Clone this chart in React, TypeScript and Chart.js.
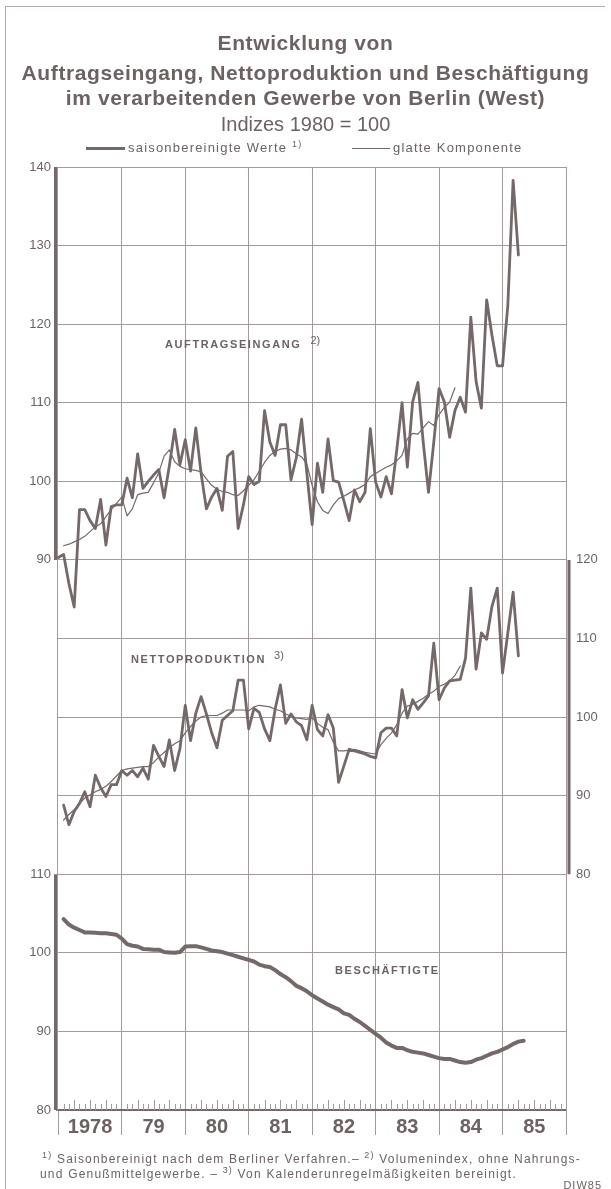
import React, { useEffect, useRef } from 'react';
import { Chart, registerables } from 'chart.js';

Chart.register(...registerables);

// ---------- data (month index 0 = Jan 1978) ----------
const yearLabels = ['1978', '79', '80', '81', '82', '83', '84', '85'];
const leftTopTicks = [90, 100, 110, 120, 130, 140];
const leftBottomTicks = [80, 90, 100, 110];
const rightTicks = [80, 90, 100, 110, 120];

const auftragRawStart = 0;
const auftragRaw = [
  90.3, 90.7, 87, 84, 96.4, 96.4, 95, 94, 97.7, 91.9, 96.8, 97,
  97, 100.4, 97.9, 103.5, 99.1, 100, 100.8, 101.5, 97.9, 102, 106.6, 102.1,
  105.3, 101.3, 106.8, 101, 96.5, 98, 99.1, 96.3, 103.2, 103.8, 94.0, 97,
  100.6, 99.6, 100, 109.0, 105, 103.3, 107.2, 107.2, 100.2, 103, 107.9, 101,
  94.5, 102.3, 98.6, 105.4, 100.1, 99.9, 97.5, 95, 98.9, 97.4, 98.6, 106.7,
  99.9, 98.0, 100.6, 98.4, 104, 110.0, 101.8, 110.1, 112.6, 105, 98.6, 105,
  111.8, 110.1, 105.6, 109, 110.7, 108.8, 120.9, 112.7, 109.3, 123.1, 118.6, 114.7,
  114.7, 122.4, 138.3, 128.8,
];

const auftragSmoothStart = 1;
const auftragSmooth = [
  91.8, 92.0, 92.3, 92.6, 93.0, 93.6, 94.2, 94.6, 95.5, 96.4, 97.2,
  98.0, 95.6, 96.5, 98.3, 98.5, 98.6, 99.8, 101.1, 103.2, 104.0, 102.5, 101.9,
  101.6, 101.5, 101.4, 101.2, 100.3, 99.5, 99.0, 98.7, 98.6, 98.3, 98.2, 98.8,
  99.5, 100.2, 101.3, 102.4, 103.3, 103.8, 104.1, 104.2, 104.0, 103.5, 103.1, 102.2,
  99.5, 97.4, 96.3, 95.9, 97.0, 97.8, 98.1, 98.5, 98.9, 99.2, 99.6, 100.6,
  101.0, 101.4, 101.8, 102.1, 102.6, 103.3, 105.4, 106.1, 106.0, 106.8, 107.6, 107.1,
  108.5, 109.4, 110.1, 111.9,
];

const nettoRawStart = 1;
const nettoRaw = [
  88.8, 86.3, 88.0, 89.0, 90.5, 88.6, 92.6, 91.0, 89.9, 91.4, 91.4,
  93.2, 92.6, 93.2, 92.4, 93.5, 92.1, 96.4, 95, 93.7, 97.1, 93.2, 96,
  101.5, 97.0, 100.5, 102.6, 100.4, 98, 96.1, 99.6, 100.2, 100.8, 104.7, 104.7,
  98.5, 101.1, 100.6, 98.5, 97.0, 101, 104.1, 99.2, 100.4, 99.4, 98.9, 97.1,
  101.5, 98.4, 97.6, 100.3, 98.6, 91.7, 93.8, 95.9, 95.7, 95.5, 95.3, 95.0,
  94.8, 98.0, 98.6, 98.6, 97.6, 103.5, 99.9, 102.2, 101, 101.8, 102.7, 109.4,
  102.2, 103.7, 104.6, 104.7, 104.8, 107.5, 116.4, 106.1, 110.7, 109.9, 114.1, 116.4,
  105.6, 110.7, 115.9, 107.8,
];

const nettoSmoothStart = 1;
const nettoSmooth = [
  86.9, 87.6, 88.2, 89.0, 89.7, 90.1, 90.5, 90.8, 91.2, 91.8, 92.5,
  93.2, 93.4, 93.5, 93.6, 93.7, 93.7, 94.2, 94.9, 95.5, 96.1, 96.6, 97.0,
  98.0, 98.8, 99.5, 100.0, 100.2, 100.2, 100.2, 100.5, 100.9, 100.9, 100.9, 100.9,
  100.8, 101.3, 101.5, 101.4, 101.3, 101.0, 100.8, 100.4, 100.1, 99.9, 99.8, 99.7,
  99.9, 99.2, 98.7, 98.4, 96.8, 95.7, 95.7, 95.8, 95.9, 95.7, 95.5, 95.4,
  95.3, 96.5, 97.3, 98.0, 99.0, 100.5, 101.4, 101.6, 102.0, 102.4, 102.9, 103.3,
  103.9, 104.2, 104.6, 105.3, 106.5,
];

const beschStart = 1;
const beschaeftigte = [
  104.3, 103.6, 103.2, 102.9, 102.6, 102.6, 102.55, 102.5, 102.5, 102.4, 102.3,
  101.8, 101.1, 100.9, 100.8, 100.5, 100.45, 100.4, 100.4, 100.1, 100.05, 100.0, 100.1,
  100.8, 100.85, 100.85, 100.7, 100.5, 100.3, 100.2, 100.1, 99.9, 99.7, 99.5, 99.3,
  99.1, 98.9, 98.5, 98.3, 98.2, 97.8, 97.3, 96.9, 96.4, 95.8, 95.5, 95.1,
  94.6, 94.2, 93.8, 93.4, 93.1, 92.8, 92.3, 92.1, 91.6, 91.2, 90.7, 90.2,
  89.7, 89.2, 88.6, 88.2, 87.9, 87.9, 87.6, 87.4, 87.3, 87.2, 87.0, 86.8,
  86.6, 86.5, 86.5, 86.3, 86.1, 86.0, 86.1, 86.4, 86.6, 86.9, 87.2, 87.4,
  87.7, 88.0, 88.4, 88.7, 88.8,
];

// ---------- styles ----------
const FONT = '"Liberation Sans", Arial, sans-serif';
const LINE = '#746868';
const GRID = '#a39a9a';
const TEXT = '#6d6262';
const CLEAR = 'rgba(0,0,0,0)';

const toPts = (start: number, vals: number[]) => vals.map((v, i) => ({ x: start + i, y: v }));

const xTickValues: number[] = [];
for (let v = 0; v <= 96; v += 6) xTickValues.push(v);

const decorPlugin = {
  id: 'decor',
  afterDraw(chart: any) {
    const { ctx, chartArea, scales } = chart;
    const x = scales.x;
    const yL = scales.yL;
    const yR = scales.yR;
    const yB = scales.yB;
    const seg = (x1: number, y1: number, x2: number, y2: number) => {
      ctx.beginPath();
      ctx.moveTo(x1, y1);
      ctx.lineTo(x2, y2);
      ctx.stroke();
    };
    ctx.save();
    ctx.strokeStyle = LINE;
    ctx.lineWidth = 3;
    const lx = chartArea.left - 1.5;
    seg(lx, yL.getPixelForValue(140), lx, yL.getPixelForValue(90));
    seg(lx, yB.getPixelForValue(110), lx, yB.getPixelForValue(80));
    const rx = chartArea.right + 3;
    seg(rx, yR.getPixelForValue(120), rx, yR.getPixelForValue(80));
    // month ticks on the time axis
    ctx.lineWidth = 1;
    ctx.strokeStyle = GRID;
    for (let m = 1; m < 96; m++) {
      if (m % 12 === 0) continue;
      const px = Math.round(x.getPixelForValue(m)) + 0.5;
      const h = m % 3 === 0 ? 10 : 6;
      seg(px, chartArea.bottom, px, chartArea.bottom - h);
    }
    ctx.restore();
  },
};

const abs = (s: React.CSSProperties): React.CSSProperties => ({ position: 'absolute', whiteSpace: 'nowrap', ...s });

export default function App() {
  const ref = useRef<HTMLCanvasElement>(null);

  useEffect(() => {
    if (!ref.current) return;
    const chart = new Chart(ref.current, {
      type: 'line',
      data: {
        datasets: [
          { label: 'Auftragseingang glatte Komponente', data: toPts(auftragSmoothStart, auftragSmooth), yAxisID: 'yL', borderColor: LINE, borderWidth: 1.2 },
          { label: 'Auftragseingang saisonbereinigt', data: toPts(auftragRawStart, auftragRaw), yAxisID: 'yL', borderColor: LINE, borderWidth: 2.8 },
          { label: 'Nettoproduktion glatte Komponente', data: toPts(nettoSmoothStart, nettoSmooth), yAxisID: 'yR', borderColor: LINE, borderWidth: 1.2 },
          { label: 'Nettoproduktion saisonbereinigt', data: toPts(nettoRawStart, nettoRaw), yAxisID: 'yR', borderColor: LINE, borderWidth: 2.8 },
          { label: 'Beschäftigte', data: toPts(beschStart, beschaeftigte), yAxisID: 'yB', borderColor: LINE, borderWidth: 4 },
        ],
      },
      options: {
        animation: false,
        responsive: false,
        events: [],
        elements: {
          point: { radius: 0 },
          line: { tension: 0, borderJoinStyle: 'round', borderCapStyle: 'round', fill: false },
        },
        layout: { padding: { top: 167, bottom: 39, left: 0, right: 0 } },
        plugins: { legend: { display: false }, tooltip: { enabled: false }, title: { display: false } },
        scales: {
          x: {
            type: 'linear',
            position: 'bottom',
            min: -0.25,
            max: 96,
            afterBuildTicks: (s: any) => {
              s.ticks = xTickValues.map((v) => ({ value: v }));
            },
            afterFit: (s: any) => {
              s.height = 40;
            },
            ticks: {
              autoSkip: false,
              maxRotation: 0,
              minRotation: 0,
              padding: -20,
              color: TEXT,
              font: { size: 20, weight: 'bold', family: FONT },
              callback: (v: any) => (v % 12 === 6 ? yearLabels[(v - 6) / 12] : ''),
            },
            grid: {
              color: (c: any) => (c.tick && c.tick.value % 12 === 0 && c.tick.value > 0 ? GRID : CLEAR),
              tickColor: (c: any) => (c.tick && c.tick.value % 12 === 0 ? GRID : CLEAR),
              tickLength: 25,
              drawTicks: true,
              lineWidth: 1,
            },
            border: { display: true, color: LINE, width: 2 },
          },
          yL: {
            type: 'linear',
            position: 'left',
            min: 20,
            max: 140,
            afterFit: (s: any) => {
              s.width = 57;
            },
            ticks: {
              stepSize: 10,
              padding: 6,
              color: TEXT,
              font: { size: 13, family: FONT },
              callback: (v: any) => {
                if (leftTopTicks.includes(v)) return String(v);
                if (leftBottomTicks.includes(v + 60)) return String(v + 60);
                return '';
              },
            },
            grid: { color: GRID, lineWidth: 1, drawTicks: false },
            border: { display: true, color: GRID, width: 1 },
          },
          yR: {
            type: 'linear',
            position: 'right',
            min: 50,
            max: 170,
            afterFit: (s: any) => {
              s.width = 45;
            },
            ticks: {
              stepSize: 10,
              padding: 10,
              color: TEXT,
              font: { size: 13, family: FONT },
              callback: (v: any) => (rightTicks.includes(v) ? String(v) : ''),
            },
            grid: { display: false, drawTicks: false },
            border: { display: true, color: GRID, width: 1 },
          },
          yB: { type: 'linear', display: false, min: 80, max: 200 },
        },
      } as any,
      plugins: [decorPlugin],
    });
    return () => chart.destroy();
  }, []);

  const title: React.CSSProperties = { left: 0, width: 611, textAlign: 'center', fontWeight: 'bold', fontSize: 21, lineHeight: '21px', letterSpacing: 0.6 };
  const series: React.CSSProperties = { fontWeight: 'bold', fontSize: 11, lineHeight: '11px', letterSpacing: 1.6 };
  const sup: React.CSSProperties = { fontSize: 9, position: 'relative', top: -5 };
  const foot: React.CSSProperties = { fontSize: 12, lineHeight: '12px', letterSpacing: 1.2 };

  return (
    <div style={{ position: 'absolute', left: 0, top: 0, width: 611, height: 1189, background: '#fff', overflow: 'hidden', fontFamily: FONT, color: TEXT }}>
      <div style={abs({ left: 5, top: 6, width: 1, height: 1183, background: '#b3abab' })} />
      <div style={abs({ left: 5, top: 6, width: 600, height: 1, background: '#b3abab' })} />
      <canvas ref={ref} width={611} height={1189} style={{ position: 'absolute', left: 0, top: 0 }} />

      <div style={abs({ ...title, top: 32 })}>Entwicklung von</div>
      <div style={abs({ ...title, top: 62 })}>Auftragseingang, Nettoproduktion und Beschäftigung</div>
      <div style={abs({ ...title, top: 87 })}>im verarbeitenden Gewerbe von Berlin (West)</div>
      <div style={abs({ left: 0, width: 611, textAlign: 'center', fontSize: 20, lineHeight: '20px', top: 114 })}>Indizes 1980 = 100</div>

      <div style={abs({ left: 86, top: 147, width: 39, height: 3, background: LINE })} />
      <div style={abs({ left: 128, top: 141, fontSize: 13, lineHeight: '13px', letterSpacing: 1.2 })}>
        saisonbereinigte Werte <span style={sup}>1)</span>
      </div>
      <div style={abs({ left: 352, top: 148, width: 38, height: 1, background: LINE })} />
      <div style={abs({ left: 393, top: 141, fontSize: 13, lineHeight: '13px', letterSpacing: 1.2 })}>glatte Komponente</div>

      <div style={abs({ ...series, left: 165, top: 339 })}>
        AUFTRAGSEINGANG<span style={{ fontWeight: 'normal', fontSize: 11, position: 'relative', top: -4, letterSpacing: 0, marginLeft: 9 }}>2)</span>
      </div>
      <div style={abs({ ...series, left: 131, top: 654 })}>
        NETTOPRODUKTION<span style={{ fontWeight: 'normal', fontSize: 11, position: 'relative', top: -4, letterSpacing: 0, marginLeft: 8 }}>3)</span>
      </div>
      <div style={abs({ ...series, left: 335, top: 965 })}>BESCHÄFTIGTE</div>

      <div style={abs({ ...foot, left: 42, top: 1153 })}>
        <span style={sup}>1)</span> Saisonbereinigt nach dem Berliner Verfahren.– <span style={sup}>2)</span> Volumenindex, ohne Nahrungs-
      </div>
      <div style={abs({ ...foot, left: 40, top: 1168 })}>
        und Genußmittelgewerbe. – <span style={sup}>3)</span> Von Kalenderunregelmäßigkeiten bereinigt.
      </div>
      <div style={abs({ right: 9, top: 1180, fontSize: 11, lineHeight: '11px', letterSpacing: 1 })}>DIW85</div>
    </div>
  );
}
